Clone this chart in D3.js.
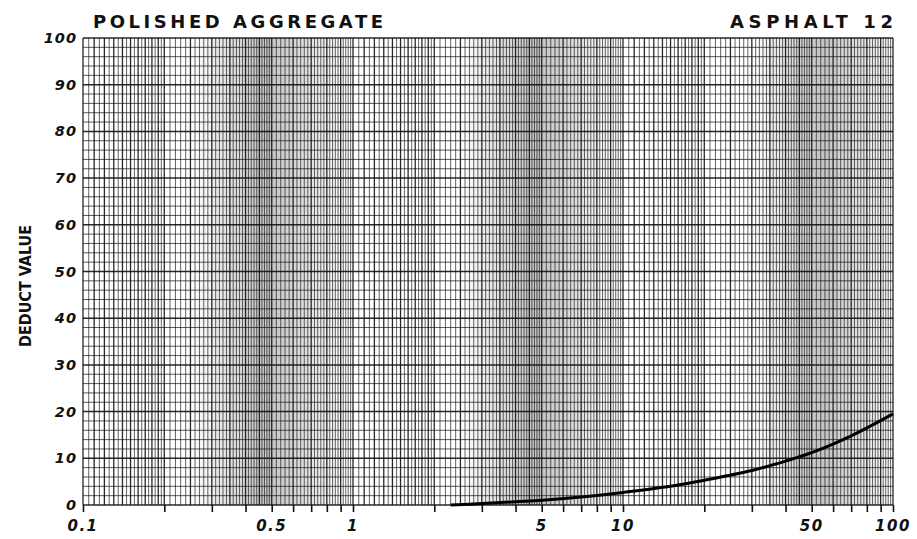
<!DOCTYPE html>
<html>
<head>
<meta charset="utf-8">
<script src="https://cdn.jsdelivr.net/npm/d3@7"></script>
<style>
  body { margin: 0; background: #fff; }
  svg text { font-family: "DejaVu Sans", sans-serif; font-weight: bold; fill: #111; }
</style>
</head>
<body>
<svg></svg>
<script>
// curve: polished aggregate, asphalt
var density = [2.3, 3, 4, 5, 7, 10, 15, 20, 30, 40, 50, 70, 100];
var deduct = [0, 0.3, 0.7, 1.0, 1.7, 2.7, 4.0, 5.3, 7.4, 9.4, 11.2, 14.8, 19.5];

var xLabels = [0.1, 0.5, 1, 5, 10, 50, 100];
var yLabels = [0, 10, 20, 30, 40, 50, 60, 70, 80, 90, 100];

var svgWidth = 917;
var svgHeight = 539;
var margin = {left: 83, right: 24, top: 38, bottom: 34};

var svg = d3.select('svg')
			.attr('width', svgWidth)
			.attr('height', svgHeight);

var xScale = d3.scaleLog()
				.domain([0.1, 100])
				.range([margin.left, svgWidth - margin.right]);

var yScale = d3.scaleLinear()
				.domain([0, 100])
				.range([svgHeight - margin.bottom, margin.top]);

// scanned paper shading
var defs = svg.append('defs');
var grad = defs.append('linearGradient').attr('id', 'band');
grad.append('stop').attr('offset', '0%').attr('stop-color', '#888').attr('stop-opacity', 0);
grad.append('stop').attr('offset', '50%').attr('stop-color', '#888').attr('stop-opacity', 0.5);
grad.append('stop').attr('offset', '100%').attr('stop-color', '#888').attr('stop-opacity', 0);

var bands = [[0.25, 0.95], [2.5, 9.5], [30, 100]];
svg.selectAll('rect.band')
	.data(bands)
	.enter()
	.append('rect')
	.attr('class', 'band')
	.attr('x', d => xScale(d[0]))
	.attr('width', d => xScale(d[1]) - xScale(d[0]))
	.attr('y', yScale(100))
	.attr('height', yScale(0) - yScale(100))
	.attr('fill', 'url(#band)');

// log paper vertical lines
var vLines = [];
[0.1, 1, 10].forEach(dec => {
	for (var i = 0; i < 20; i++) vLines.push({v: dec * (1 + i * 0.05), heavy: i % 2 == 0});
	for (var i = 0; i < 30; i++) vLines.push({v: dec * (2 + i * 0.1), heavy: i % 5 == 0});
	for (var i = 0; i < 25; i++) vLines.push({v: dec * (5 + i * 0.2), heavy: i % 5 == 0});
});
vLines.push({v: 100, heavy: true});

svg.append('g')
	.selectAll('line')
	.data(vLines)
	.enter()
	.append('line')
	.attr('x1', d => xScale(d.v))
	.attr('x2', d => xScale(d.v))
	.attr('y1', yScale(0))
	.attr('y2', yScale(100))
	.attr('stroke', '#111')
	.attr('stroke-opacity', d => d.heavy ? 0.9 : 0.65)
	.attr('stroke-width', d => d.heavy ? 1.3 : 1);

// horizontal lines every 2
var hLines = d3.range(0, 101, 2);
svg.append('g')
	.selectAll('line')
	.data(hLines)
	.enter()
	.append('line')
	.attr('x1', xScale(0.1))
	.attr('x2', xScale(100))
	.attr('y1', d => yScale(d))
	.attr('y2', d => yScale(d))
	.attr('stroke', '#111')
	.attr('stroke-opacity', d => d % 10 == 0 ? 0.9 : 0.7)
	.attr('stroke-width', d => d % 10 == 0 ? 1.5 : 1);

// ticks below the axis at each whole multiple
var tickVals = [];
[0.1, 1, 10].forEach(dec => { for (var k = 1; k <= 9; k++) tickVals.push(dec * k); });
tickVals.push(100);

var xAxis = d3.axisBottom(xScale)
				.tickValues(tickVals)
				.tickSize(7)
				.tickFormat('');
svg.append('g')
	.attr('transform', 'translate(0,' + yScale(0) + ')')
	.call(xAxis)
	.call(g => g.select('.domain').remove())
	.selectAll('line')
	.attr('stroke', '#111')
	.attr('stroke-width', 1.6);

svg.selectAll('text.xl')
	.data(xLabels)
	.enter()
	.append('text')
	.attr('class', 'xl')
	.attr('x', d => xScale(d))
	.attr('y', 531)
	.attr('text-anchor', 'middle')
	.attr('font-size', 15)
	.attr('font-style', 'italic')
	.attr('letter-spacing', 1.5)
	.text(d => d);

svg.selectAll('text.yl')
	.data(yLabels)
	.enter()
	.append('text')
	.attr('class', 'yl')
	.attr('x', 77)
	.attr('y', d => yScale(d) + 5)
	.attr('text-anchor', 'end')
	.attr('font-size', 14.5)
	.attr('font-style', 'italic')
	.attr('letter-spacing', 1)
	.text(d => d);

// the curve
var line = d3.line()
			.x((d, i) => xScale(density[i]))
			.y(d => yScale(d))
			.curve(d3.curveCatmullRom);

svg.append('path')
	.datum(deduct)
	.attr('d', line)
	.attr('fill', 'none')
	.attr('stroke', '#000')
	.attr('stroke-width', 3);

// titles
svg.append('text')
	.attr('x', 93)
	.attr('y', 28)
	.attr('font-size', 18)
	.attr('textLength', 290)
	.attr('lengthAdjust', 'spacing')
	.text('POLISHED AGGREGATE');

svg.append('text')
	.attr('x', 730)
	.attr('y', 28)
	.attr('font-size', 18)
	.attr('textLength', 163)
	.attr('lengthAdjust', 'spacing')
	.text('ASPHALT  12');

svg.append('text')
	.attr('transform', 'translate(31,286) rotate(-90)')
	.attr('text-anchor', 'middle')
	.attr('font-size', 15)
	.attr('font-weight', 'normal')
	.attr('textLength', 122)
	.attr('lengthAdjust', 'spacingAndGlyphs')
	.style('font-family', '"DejaVu Sans Condensed", sans-serif')
	.text('DEDUCT VALUE');
</script>
</body>
</html>
